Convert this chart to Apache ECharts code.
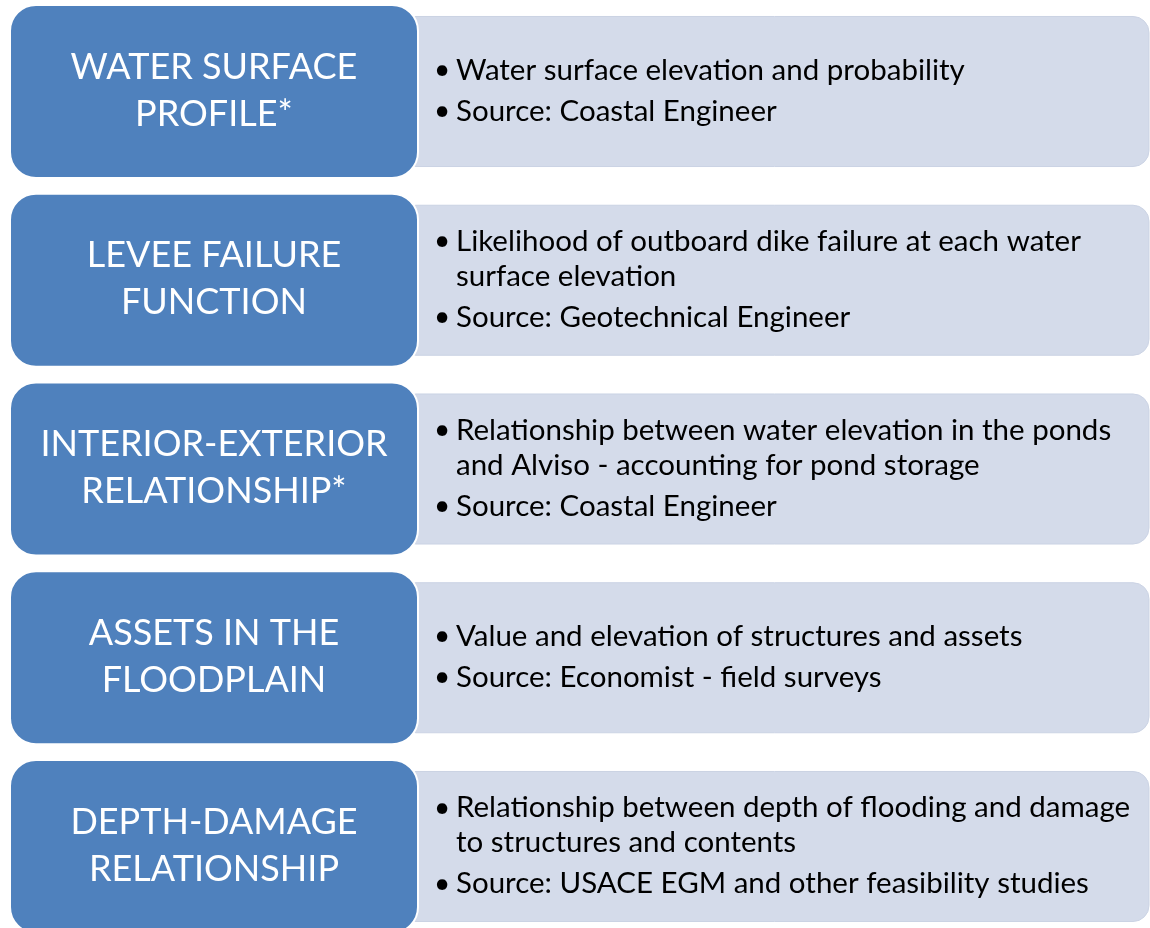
<!DOCTYPE html>
<html>
<head>
<meta charset="utf-8">
<script src="https://cdn.jsdelivr.net/npm/echarts@6/dist/echarts.min.js"></script>
<style>
  html, body { margin: 0; padding: 0; background: #fff; }
  #charts { width: 1150px; height: 928px; }
</style>
</head>
<body>
<div id="charts"></div>
<script>
// one row per input of the flood risk model
var titles = [
    ['WATER SURFACE', 'PROFILE*'],
    ['LEVEE FAILURE', 'FUNCTION'],
    ['INTERIOR-EXTERIOR', 'RELATIONSHIP*'],
    ['ASSETS IN THE', 'FLOODPLAIN'],
    ['DEPTH-DAMAGE', 'RELATIONSHIP']
];
// bullets, each one a list of its wrapped lines
var details = [
    [['Water surface elevation and probability'], ['Source: Coastal Engineer']],
    [['Likelihood of outboard dike failure at each water', 'surface elevation'], ['Source: Geotechnical Engineer']],
    [['Relationship between water elevation in the ponds', 'and Alviso - accounting for pond storage'], ['Source: Coastal Engineer']],
    [['Value and elevation of structures and assets'], ['Source: Economist - field surveys']],
    [['Relationship between depth of flooding and damage', 'to structures and contents'], ['Source: USACE EGM and other feasibility studies']]
];
var rows = titles.map(function (t, i) { return [0, i]; });

var blue = '#4F81BD';
var light = '#D4DBEA';
var font = 'Lato, "Open Sans", sans-serif';

function renderItem(params, api) {
    var i = params.dataIndex;
    var cy = api.coord([0, api.value(1)])[1];
    var pitch = api.size([0, 1])[1];
    var blueH = pitch * 0.917;
    var lightH = pitch * 0.795;
    var children = [];

    children.push({
        type: 'rect',
        shape: { x: 400, y: cy - lightH / 2, width: 749, height: lightH, r: 16 },
        style: { fill: light, stroke: '#CBD3E4', lineWidth: 1 }
    });
    children.push({
        type: 'rect',
        shape: { x: 10, y: cy - blueH / 2, width: 408, height: blueH, r: 26 },
        style: { fill: blue, stroke: '#fff', lineWidth: 2 }
    });
    children.push({
        type: 'text',
        style: {
            text: titles[i].join('\n'),
            x: 214, y: cy - 1,
            fill: '#fff',
            font: '36px ' + font,
            lineHeight: 47,
            align: 'center', verticalAlign: 'middle'
        }
    });

    // stack bullet lines: 35px inside a bullet, 41px between bullets
    var items = [];
    var y = 0;
    details[i].forEach(function (b, bi) {
        if (bi > 0) y += 41;
        b.forEach(function (line, li) {
            if (li > 0) y += 35;
            items.push({ y: y, text: line, first: li === 0 });
        });
    });
    var top = cy - 1 - y / 2;
    items.forEach(function (it) {
        if (it.first) {
            children.push({
                type: 'text',
                style: { text: '•', x: 434, y: top + it.y, fill: '#000', font: '28px ' + font, verticalAlign: 'middle' }
            });
        }
        children.push({
            type: 'text',
            style: { text: it.text, x: 456, y: top + it.y, fill: '#000', font: '29.5px ' + font, verticalAlign: 'middle' }
        });
    });
    return { type: 'group', children: children };
}

var myChart = echarts.init(document.getElementById('charts'));
var option = {
    animation: false,
    grid: { left: 0, right: 0, top: 0, bottom: 0 },
    xAxis: { type: 'value', min: 0, max: 1150, show: false },
    yAxis: { type: 'value', inverse: true, min: -0.4848, max: 4.4318, show: false },
    series: [{
        type: 'custom',
        renderItem: renderItem,
        clip: false,
        data: rows
    }]
};
myChart.setOption(option);
</script>
</body>
</html>
